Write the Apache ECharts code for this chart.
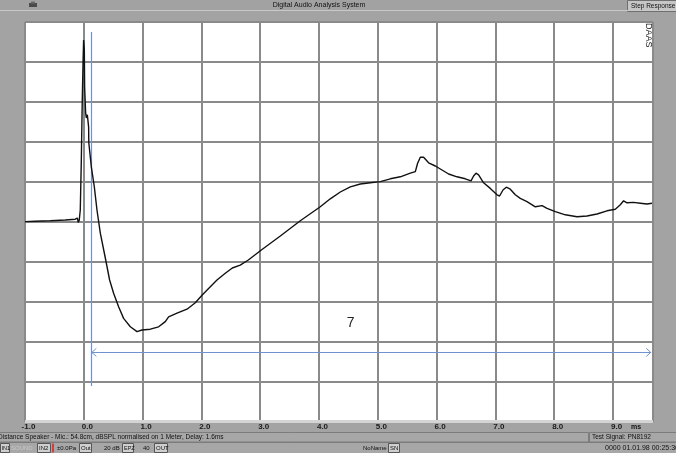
<!DOCTYPE html>
<html><head><meta charset="utf-8">
<script src="https://cdn.jsdelivr.net/npm/echarts@6/dist/echarts.min.js"></script>
<style>html,body{margin:0;padding:0;background:#a3a3a3}#c{width:676px;height:453px}</style>
</head><body><div id="c"></div>
<script>
// ---- data (time in ms, relative level) ----
const times = [-1.0,-0.825,-0.57,-0.315,-0.145,-0.11,-0.094,-0.077,-0.06,-0.043,-0.026,-0.012,-0.003,0.009,0.014,0.031,0.043,0.06,0.082,0.085,0.128,0.179,0.224,0.281,0.366,0.439,0.507,0.592,0.677,0.791,0.905,0.99,1.131,1.272,1.386,1.442,1.585,1.755,1.896,2.01,2.122,2.265,2.406,2.526,2.66,2.798,3.019,3.342,3.682,4.022,4.192,4.362,4.532,4.702,4.872,5.043,5.213,5.383,5.553,5.638,5.677,5.723,5.779,5.864,5.978,6.092,6.204,6.347,6.488,6.585,6.629,6.67,6.714,6.799,6.913,7.027,7.071,7.129,7.185,7.253,7.338,7.423,7.537,7.679,7.793,7.878,8.019,8.189,8.388,8.558,8.728,8.898,9.039,9.124,9.18,9.238,9.35,9.464,9.578,9.663];
const values = [0.01,0.02,0.03,0.05,0.07,0.10,-0.01,0.05,0.30,1.48,3.05,4.05,4.55,4.3,3.38,2.73,2.6,2.68,2.38,1.98,1.38,0.88,0.30,-0.28,-0.9,-1.45,-1.78,-2.12,-2.41,-2.62,-2.74,-2.70,-2.68,-2.62,-2.49,-2.37,-2.28,-2.18,-2.02,-1.83,-1.66,-1.45,-1.28,-1.15,-1.08,-0.95,-0.70,-0.35,0.03,0.38,0.58,0.75,0.88,0.95,0.98,1.01,1.08,1.13,1.22,1.26,1.47,1.62,1.62,1.48,1.40,1.30,1.20,1.13,1.08,1.03,1.15,1.22,1.18,0.98,0.84,0.68,0.65,0.80,0.87,0.82,0.68,0.59,0.51,0.38,0.41,0.34,0.26,0.18,0.13,0.15,0.20,0.28,0.32,0.43,0.53,0.48,0.49,0.47,0.45,0.47];
// annotations
const cursorX = 0.128;
const cursorTop = 4.75;
const cursorBottom = -4.1;
const arrowY = -3.26;
const arrowEnd = 9.65;
const noteText = "7";
const notePos = [4.54, -2.52];
// axis
const xMin = -1, xMax = 9.68, xStep = 1;
const yMin = -5, yMax = 5, yStep = 1;
const titleText = "Digital Audio Analysis System";
const statusText = "Distance Speaker - Mic.: 54.8cm, dBSPL normalised on 1 Meter, Delay: 1.6ms";
const signalText = "Test Signal: PN8192";
const dateText = "0000 01.01.98 00:25:36";

const chart = echarts.init(document.getElementById('c'), null, {renderer:'canvas'});
const F = '"Liberation Sans", Arial, sans-serif';
const blue = '#6f92d0';
const gridColor = '#8a8a8a';

function txt(x, y, s, o) {
  return Object.assign({type:'text', x:x, y:y, z:50, style:Object.assign({text:s, fill:'#111', font:'7px ' + F, verticalAlign:'middle'}, o||{})});
}
function box(x, y, w, h, fill, stroke) {
  return {type:'rect', z:40, shape:{x:x, y:y, width:w, height:h}, style:{fill:fill, stroke:stroke||null, lineWidth:1}};
}
const chrome = [
  box(0, 0, 676, 10, '#a2a2a2'),
  {type:'line', z:41, shape:{x1:0, y1:10.5, x2:676, y2:10.5}, style:{stroke:'#c9c9c9', lineWidth:1}},
  txt(319, 5.5, titleText, {align:'center'}),
  box(627.5, 0.5, 49, 11, '#c6c6c6', '#6f6f6f'),
  txt(631, 6, 'Step Response', {font:'6.5px ' + F}),
  box(29, 3, 8, 4, '#4a4a4a'),
  box(31, 1.5, 4, 2, '#6a6a6a'),
  {type:'text', z:50, x:648, y:23, rotation:-Math.PI/2, style:{text:'DAAS', fill:'#222', font:'9px ' + F, verticalAlign:'middle'}},
  box(25, 420, 628, 3, '#d4d4d4'),
  txt(631, 427.5, 'ms', {font:'bold 7px ' + F}),
  box(-1, 432.5, 589.5, 9.5, '#a7a7a7', '#7c7c7c'),
  box(589.5, 432.5, 90, 9.5, '#a7a7a7', '#7c7c7c'),
  txt(-2, 437.5, statusText, {font:'6.5px ' + F}),
  txt(592, 437.5, signalText, {font:'6.5px ' + F}),
  box(-1, 442.5, 679, 11, '#a7a7a7', '#7c7c7c'),
  box(0.5, 443.5, 9, 9, '#cfcfcf', '#555'), txt(1.5, 448, 'IN1', {font:'5.5px ' + F}),
  txt(11, 448, 'SOUND', {font:'6px ' + F, fill:'#c8c8c8'}),
  box(37.5, 443.5, 13, 9, '#cfcfcf', '#555'), txt(39, 448, 'IN2', {font:'6px ' + F}),
  box(52, 443.5, 2, 9, '#d04040'),
  txt(57, 448, '±0.0Pa', {font:'6px ' + F}),
  box(79.5, 443.5, 12, 9, '#cfcfcf', '#555'), txt(81, 448, 'Out', {font:'6px ' + F}),
  txt(104, 448, '20 dB', {font:'6px ' + F}),
  box(122.5, 443.5, 11, 9, '#cfcfcf', '#555'), txt(124, 448, 'EPZ', {font:'5.5px ' + F}),
  txt(143, 448, '40', {font:'6px ' + F}),
  box(154.5, 443.5, 13, 9, '#cfcfcf', '#555'), txt(156, 448, 'OUT', {font:'6px ' + F}),
  txt(363, 448, 'NoName', {font:'6px ' + F}),
  box(388.5, 443.5, 11, 9, '#cfcfcf', '#555'), txt(390, 448, 'SN', {font:'6px ' + F}),
  txt(605, 448, dateText, {font:'7px ' + F})
];

const option = {
  animation:false,
  backgroundColor:'#a3a3a3',
  grid:{left:25, top:22, width:628, height:400, show:true, backgroundColor:'#ffffff', borderWidth:0},
  xAxis:{type:'value', min:xMin, max:xMax, interval:xStep,
    axisLine:{show:false}, axisTick:{show:false},
    splitLine:{show:true, lineStyle:{color:gridColor, width:2}},
    axisLabel:{show:true, margin:1, fontSize:8, fontWeight:'bold', fontFamily:F, color:'#1a1a1a',
      padding:[0,0,0,7], formatter:function(v){ return v.toFixed(1); }, showMaxLabel:false}},
  yAxis:{type:'value', min:yMin, max:yMax, interval:yStep,
    axisLine:{show:false}, axisTick:{show:false}, axisLabel:{show:false},
    splitLine:{show:true, lineStyle:{color:gridColor, width:2}}},
  series:[
    {type:'line', data:times.map((t,i)=>[t, values[i]]), showSymbol:false, symbol:'none',
     lineStyle:{color:'#111', width:1.4}, z:5},
    {type:'line', data:[], z:4,
     markLine:{silent:true, symbol:['none','none'], label:{show:false},
       lineStyle:{color:blue, width:1.2, type:'solid', opacity:1},
       data:[
         [{coord:[cursorX, cursorTop]}, {coord:[cursorX, cursorBottom]}],
         [{coord:[cursorX, arrowY]}, {coord:[arrowEnd, arrowY]}]
       ]}}
  ],
  graphic:chrome
};
chart.setOption(option);

const pL = chart.convertToPixel({gridIndex:0}, [cursorX, arrowY]);
const pR = chart.convertToPixel({gridIndex:0}, [arrowEnd, arrowY]);
const pN = chart.convertToPixel({gridIndex:0}, notePos);
const extra = [
  {type:'polyline', z:60, shape:{points:[[pL[0]+5, pL[1]-4],[pL[0]+0.5, pL[1]],[pL[0]+5, pL[1]+4]]}, style:{stroke:blue, lineWidth:1, fill:null}},
  {type:'polyline', z:60, shape:{points:[[pR[0]-5, pR[1]-4],[pR[0]-0.5, pR[1]],[pR[0]-5, pR[1]+4]]}, style:{stroke:blue, lineWidth:1, fill:null}},
  {type:'text', z:60, x:pN[0], y:pN[1], style:{text:noteText, fill:'#222', font:'14px ' + F, align:'center', verticalAlign:'middle'}}
];
chart.setOption({graphic:chrome.concat(extra)});
</script></body></html>
